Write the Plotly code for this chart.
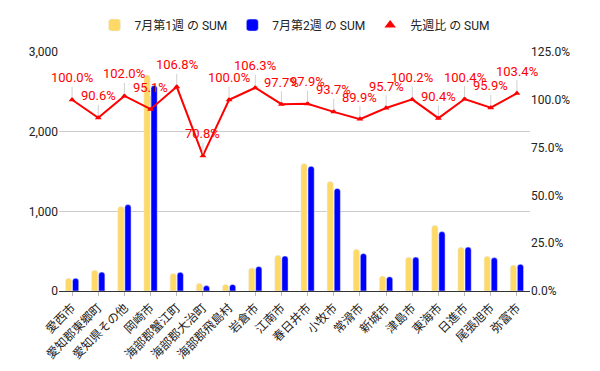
import plotly.graph_objects as go

categories = ["愛西市", "愛知郡東郷町", "愛知県その他", "岡崎市", "海部郡蟹江町", "海部郡大治町",
              "海部郡飛島村", "岩倉市", "江南市", "春日井市", "小牧市", "常滑市", "新城市",
              "津島市", "東海市", "日進市", "尾張旭市", "弥富市"]
week1 = [160, 262, 1062, 2712, 221, 96, 83, 290, 450, 1600, 1375, 525, 187, 425, 825, 550, 437, 325]
week2 = [160, 237, 1085, 2580, 236, 68, 83, 308, 440, 1566, 1288, 472, 179, 426, 746, 552, 419, 336]
ratio = [1.000, 0.906, 1.020, 0.951, 1.068, 0.708, 1.000, 1.063, 0.977, 0.979, 0.937, 0.899,
         0.957, 1.002, 0.904, 1.004, 0.959, 1.034]
left_ticks = [0, 1000, 2000, 3000]
right_ticks = [0, 0.25, 0.5, 0.75, 1.0, 1.25]

FONT = "Roboto, 'Noto Sans CJK JP', sans-serif"

fig = go.Figure()
fig.add_trace(go.Bar(x=categories, y=week1, name="7月第1週 の SUM", marker_color="#FFD966"))
fig.add_trace(go.Bar(x=categories, y=week2, name="7月第2週 の SUM", marker_color="#0000FF"))
fig.add_trace(go.Scatter(x=categories, y=ratio, yaxis="y2", mode="lines+markers",
                         line=dict(color="#FF0000", width=2),
                         marker=dict(symbol="triangle-up", size=6, color="#FF0000"),
                         showlegend=False, hoverinfo="skip"))
fig.add_trace(go.Scatter(x=[categories[0]], y=[None], yaxis="y2", mode="markers",
                         name="先週比 の SUM",
                         marker=dict(symbol="triangle-up", size=10, color="#FF0000")))

for c, r in zip(categories, ratio):
    fig.add_annotation(x=c, y=r, yref="y2", xref="x", text=f"{r*100:.1f}%",
                       showarrow=True, arrowhead=0, arrowwidth=1, arrowcolor="#d0d0d0",
                       ax=0, ay=-22, standoff=2,
                       font=dict(color="#FF0000", size=13, family=FONT))

fig.update_layout(
    width=600, height=371,
    margin=dict(l=59, r=70, t=51, b=80),
    paper_bgcolor="white", plot_bgcolor="white",
    font=dict(family=FONT, size=12, color="#222"),
    barmode="group", bargap=0.46, bargroupgap=0.12, barcornerradius=3,
    legend=dict(orientation="h", x=0.5, xanchor="center",
                y=1.108, yanchor="middle",
                font=dict(size=12, color="#222"), itemwidth=30),
    xaxis=dict(tickangle=-45, showline=True, linecolor="#333", linewidth=1,
               range=[-0.5, len(categories) - 0.5],
               ticks="outside", ticklen=4, tickcolor="#bbb", showgrid=False,
               automargin=False, tickfont=dict(size=12, color="#222")),
    yaxis=dict(range=[0, 3000], tickvals=left_ticks, tickformat=",d",
               gridcolor="#cccccc", zeroline=False, showline=False, automargin=False,
               tickfont=dict(size=12, color="#222")),
    yaxis2=dict(range=[0, 1.25], tickvals=right_ticks, tickformat=".1%",
                overlaying="y", side="right", showgrid=False, zeroline=False,
                automargin=False, tickfont=dict(size=12, color="#222")),
)

fig.write_html("out.html", config={"displayModeBar": False},
               post_script="document.body.style.margin='0px';")
